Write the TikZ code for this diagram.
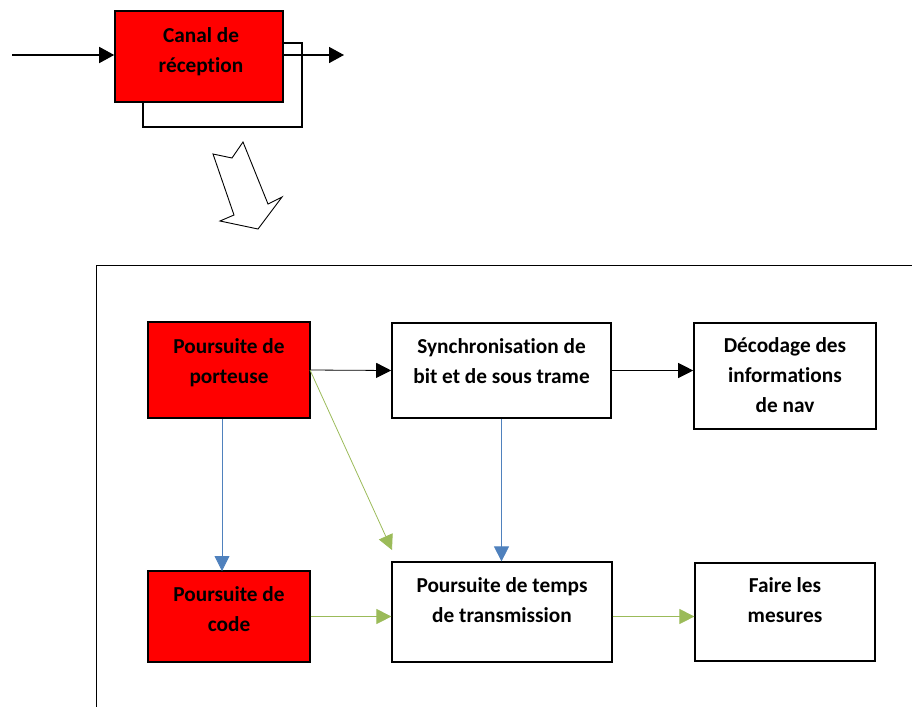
\documentclass[tikz,border=0pt]{standalone}
\usepackage{fontspec}
\setmainfont[Ligatures=NoCommon]{Carlito}
\usetikzlibrary{arrows.meta}
\definecolor{boxred}{HTML}{FF0000}
\definecolor{linkblue}{HTML}{4F81BD}
\definecolor{linkgreen}{HTML}{9BBB59}
\tikzset{
  x=1pt, y=-1pt,
  blockred/.style={draw=black, fill=boxred, line width=1.6pt, inner sep=0pt},
  blockwhite/.style={draw=black, fill=white, line width=1.6pt, inner sep=0pt},
  label text/.style={font=\fontsize{21.3}{30}\selectfont\bfseries, align=center,
    inner sep=0pt, anchor=north, execute at begin node={\rule{0pt}{17pt}}},
  thickarrow/.style={line width=1.6pt, -{Triangle[length=15pt,width=16pt]}},
  blackarrow/.style={line width=0.8pt, -{Triangle[length=15pt,width=15pt]}},
  bluearrow/.style={draw=linkblue, line width=0.8pt, -{Triangle[length=15pt,width=15pt]}, linkblue},
  greenarrow/.style={draw=linkgreen, line width=0.8pt, -{Triangle[length=15pt,width=15pt]}, linkgreen},
}
\begin{document}
\begin{tikzpicture}
\useasboundingbox (0,0) rectangle (912,707);

% --- reception channel with its feedback loop ---
\draw[line width=1.6pt] (283,43) -- (302,43) -- (302,127) -- (143,127) -- (143,102);
\node[blockred, minimum width=168pt, minimum height=91pt] (canal) at (199,56.5) {};
\node[label text] (canaltxt) at (201,11+16) {Canal de\\réception};
\coordinate (inp) at (12,55);
\coordinate (outp) at (344,55);
\draw[thickarrow] (inp) -- (inp -| canal.west);
\draw[thickarrow] (outp -| canal.east) -- (outp);

% --- hollow block arrow pointing down to the detail ---
\draw[line width=0.9pt, fill=white, line join=miter]
  (243,142) -- (232,158) -- (213,154) -- (234,215) -- (220,221)
  -- (258,229) -- (282,197) -- (268,204) -- cycle;

% --- frame of the detailed view ---
\coordinate (frameTL) at (96,265);
\draw[line width=1pt] (912,265) -- (frameTL) -- (96,707);

% --- blocks ---
\node[blockred, minimum width=162pt, minimum height=96pt] (porteuse) at (229,370) {};
\node[label text] (porteusetxt) at (229,322+16) {Poursuite de\\porteuse};

\node[blockwhite, minimum width=219pt, minimum height=95pt] (sync) at (501.5,370.5) {};
\node[label text] (synctxt) at (501.5,322+16) {Synchronisation de\\bit et de sous trame};

\node[blockwhite, minimum width=182pt, minimum height=106pt] (decod) at (785,376) {};
\node[label text] (decodtxt) at (785,321+16) {Décodage des\\informations\\de nav};

\node[blockred, minimum width=162pt, minimum height=91pt, line width=1.2pt] (code) at (229,616.5) {};
\node[label text] (codetxt) at (229,570+16) {Poursuite de\\code};

\node[blockwhite, minimum width=220pt, minimum height=100pt, line width=1.2pt] (temps) at (502,612) {};
\node[label text] (tempstxt) at (502,561+16) {Poursuite de temps\\de transmission};

\node[blockwhite, minimum width=180pt, minimum height=98pt, line width=1.2pt] (mesures) at (785,612) {};
\node[label text] (mesurestxt) at (785,561+16) {Faire les\\mesures};

% --- links ---
\coordinate (pr) at (310,370);
\coordinate (greentip) at (392,550);
\coordinate (codetop) at (222,571);
\draw[blackarrow] (pr) -- (sync.west);
\draw[blackarrow] (sync.east) -- (decod.west |- sync.east);
\draw[bluearrow] (porteuse.south -| codetop) -- (codetop);
\draw[bluearrow] (sync.south) -- (temps.north -| sync.south);
\draw[greenarrow] (pr) -- (greentip);
\draw[greenarrow] (code.east) -- (code.east -| temps.west);
\draw[greenarrow] (code.east -| temps.east) -- (code.east -| mesures.west);
\end{tikzpicture}
\end{document}
